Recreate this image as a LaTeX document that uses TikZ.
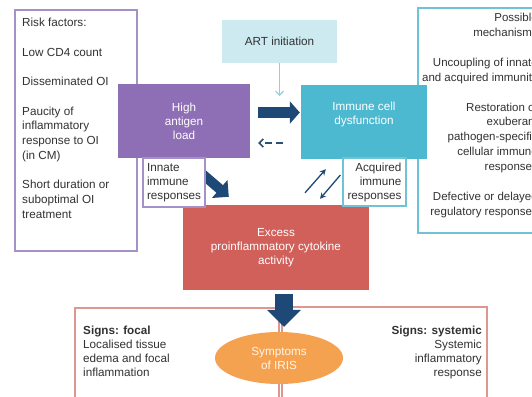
\documentclass[tikz,border=0pt]{standalone}
\usepackage{fontspec}
\setmainfont{Liberation Sans}
\usetikzlibrary{arrows.meta,calc,shapes.geometric}
\definecolor{purp}{RGB}{142,110,180}
\definecolor{purpline}{RGB}{165,145,200}
\definecolor{cyanfill}{RGB}{77,185,208}
\definecolor{cyanline}{RGB}{110,195,212}
\definecolor{artfill}{RGB}{205,234,241}
\definecolor{artline}{RGB}{150,205,222}
\definecolor{redfill}{RGB}{209,96,90}
\definecolor{redline}{RGB}{222,150,145}
\definecolor{orangefill}{RGB}{245,162,80}
\definecolor{navy}{RGB}{30,72,118}
\definecolor{txtgray}{RGB}{50,50,50}
\newcommand\dtxt{\fontsize{11.7}{14.7}\selectfont}
\newcommand\btxt{\fontsize{11.7}{14}\selectfont}
\begin{document}
\begin{tikzpicture}[x=1pt,y=-1pt,
  outline/.style={draw, line width=1.2pt, fill=white, inner sep=0pt},
  fillbox/.style={draw=none, inner sep=0pt, align=center, font=\btxt, text=white},
  smallbox/.style={draw, line width=1.2pt, fill=white, inner sep=0pt, font=\btxt, text=txtgray},
  bodytext/.style={inner sep=0pt, font=\dtxt, text=txtgray},
  thinnavy/.style={draw=navy, line width=1.3pt, -{Stealth[length=6pt,width=6pt]}}
]
\useasboundingbox (0,0) rectangle (532,396);
\clip (0,0) rectangle (532,396);
\fill[white] (0,0) rectangle (532,396);

% risk factors box
\node[outline, draw=purpline, minimum width=122pt, minimum height=241pt] (risk) at (76,130.5) {};
\node[bodytext, anchor=base west, align=left] (risktext) at (22,218)
 {Risk factors:\\[14.7pt]Low CD4 count\\[14.7pt]Disseminated OI\\[14.7pt]Paucity of\\inflammatory\\response to OI\\(in CM)\\[14.7pt]Short duration or\\suboptimal OI\\treatment};

% mechanisms box
\node[outline, draw=cyanline, minimum width=142pt, minimum height=225pt] (mech) at (489,120.5) {};
\node[bodytext, anchor=base east, align=right, font=\fontsize{11.5}{14.85}\selectfont] (mechtext) at (538,215)
 {Possible\\mechanisms\\[14.85pt]Uncoupling of innate\\and acquired immunity\\[14.85pt]Restoration of\\exuberant\\pathogen-specific\\cellular immune\\responses\\[14.85pt]Defective or delayed\\regulatory responses};

% ART initiation
\node[fillbox, fill=artfill, text=txtgray, minimum width=115pt, minimum height=43pt] (art) at (279.5,41.5) {ART initiation};

% high antigen load
\node[fillbox, fill=purp, minimum width=132pt, minimum height=74pt] (hal) at (184,121) {High\\antigen\\load};

% immune cell dysfunction
\node[fillbox, fill=cyanfill, minimum width=126pt, minimum height=74pt] (ics) at (364,122) {Immune cell\\dysfunction\\[4pt]};

% excess
\node[fillbox, fill=redfill, minimum width=186pt, minimum height=85pt] (exc) at (276,247.5) {Excess\\proinflammatory cytokine\\activity};

% innate / acquired boxes (geometry only first, for the arrow start)
\coordinate (innE) at (205,182.5);
% thick diag arrow innate -> excess
\draw[navy, line width=10pt, -{Triangle[length=12pt,width=23pt]}]
  ($(innE)+(-5,-10.5)$) -- ($(exc.north west)+(46,-8)$);

\node[smallbox, draw=purpline, minimum width=62pt, minimum height=49pt, align=left] (innate) at (174,182.5) {Innate\\immune\\responses};
\node[smallbox, draw=cyanline, minimum width=63pt, minimum height=48pt, align=right] (acq) at (374.5,182) {Acquired\\immune\\responses};

% ART arrow
\coordinate (artend) at (279.5,96);
\draw[artline, line width=1.2pt, -{Straight Barb[length=4pt,width=8pt]}] (art.south) -- (artend);

% thick arrow hal -> ics
\draw[navy, line width=11pt, -{Triangle[length=10pt,width=22pt]}]
  ($(hal.east)+(8,-8.5)$) -- ($(ics.west)+(-1,-9.5)$);

% dashed arrow ics -> hal
\draw[navy!85!gray, line width=1.6pt, dash pattern=on 7pt off 4pt, -{Straight Barb[length=4pt,width=8pt]}]
  ($(ics.west)+(-18,21)$) -- ($(hal.east)+(8,22)$);

% thin arrows between excess and acquired
\draw[thinnavy] ($(exc.north)+(29,-12)$) -- ($(ics.south west)+(25,10)$);
\draw[thinnavy] ($(acq.west)+(-2,-7)$) -- ($(exc.north)+(44,-6)$);

% bottom boxes
\node[outline, draw=redline, minimum width=204pt, minimum height=112pt] (focal) at (177,364) {};
\node[outline, draw=redline, minimum width=205pt, minimum height=113pt] (sys) at (384.5,363.5) {};
\node[inner sep=0pt, font=\btxt, text=txtgray, anchor=base west, align=left] (focaltext) at (83,376)
 {\textbf{Signs: focal}\\Localised tissue\\edema and focal\\inflammation};
\node[inner sep=0pt, font=\btxt, text=txtgray, anchor=base east, align=right] (systext) at (482,376)
 {\textbf{Signs: systemic}\\Systemic\\inflammatory\\response};

% symptoms ellipse
\node[ellipse, fill=orangefill, draw=none, minimum width=128pt, minimum height=52pt, inner sep=0pt, align=center, font=\btxt, text=white!92!orange] (sym) at (279,358) {Symptoms\\of IRIS};

% thick arrow down
\draw[navy, line width=18pt, -{Triangle[length=17pt,width=33pt]}]
  ($(exc.south)+(8,4)$) -- ($(sym.north)+(5,-5)$);
\end{tikzpicture}
\end{document}
